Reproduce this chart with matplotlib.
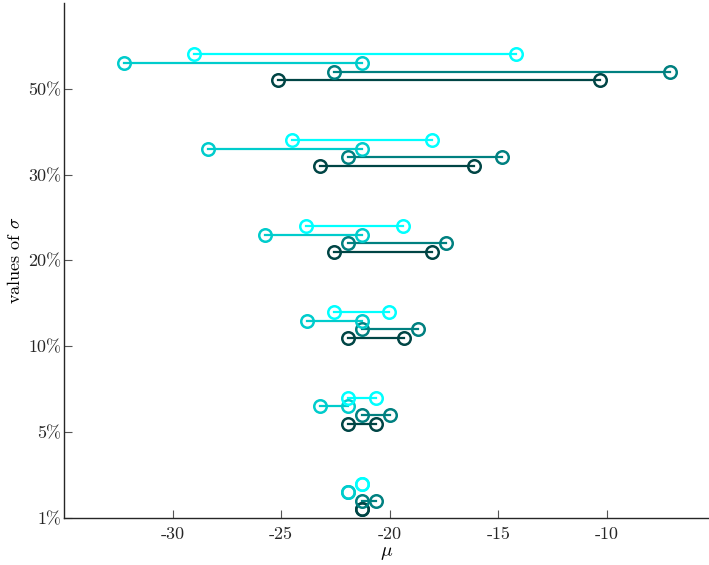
import matplotlib
matplotlib.use("Agg")
import matplotlib.pyplot as plt
import numpy as np

plt.rcParams["font.family"] = "serif"
plt.rcParams["font.serif"] = ["cmr10"]
plt.rcParams["mathtext.fontset"] = "cm"
plt.rcParams["axes.unicode_minus"] = False

# ---------------------------------------------------------------------------
# Data: interval endpoints (mu) per sigma level, four series
# ---------------------------------------------------------------------------
sigma_labels = ["1%", "5%", "10%", "20%", "30%", "50%"]

# series order: dark, teal, mid cyan, bright cyan
dark_lo = [-21.27, -21.93, -21.93, -22.56, -23.21, -25.15]
dark_hi = [-21.27, -20.64, -19.36, -18.05, -16.12, -10.34]

teal_lo = [-21.27, -21.27, -21.30, -21.92, -21.93, -22.58]
teal_hi = [-20.64, -20.00, -18.70, -17.39, -14.83, -7.10]

mid_lo = [-21.93, -23.20, -23.80, -25.75, -28.38, -32.24]
mid_hi = [-21.93, -21.93, -21.30, -21.26, -21.27, -21.27]

cyan_lo = [-21.27, -21.93, -22.58, -23.85, -24.51, -29.02]
cyan_hi = [-21.27, -20.64, -20.03, -19.39, -18.05, -14.20]

series = [
    (dark_lo, dark_hi, "#004545", 0.1),
    (teal_lo, teal_hi, "#008080", 0.2),
    (mid_lo,  mid_hi,  "#00CCCC", 0.3),
    (cyan_lo, cyan_hi, "#00FFFF", 0.4),
]

# ---------------------------------------------------------------------------
# Plot
# ---------------------------------------------------------------------------
fig = plt.figure(figsize=(7.09, 5.65), dpi=100)
ax = fig.add_axes([0.0903, 0.0832, 0.9097, 0.9115])

base = np.arange(len(sigma_labels))
for lo, hi, col, off in series:
    for i in range(len(base)):
        ax.plot([lo[i], hi[i]], [base[i] + off] * 2, color=col, lw=1.6,
                marker="o", ms=9, mfc="none", mec=col, mew=1.8)

ax.set_xlim(-35, -5.3)
ax.set_ylim(0, 6)
ax.set_xticks([-30, -25, -20, -15, -10])
ax.set_xticklabels(["-30", "-25", "-20", "-15", "-10"])
ax.set_yticks(base)
ax.set_yticklabels(sigma_labels)

for side in ["top", "right"]:
    ax.spines[side].set_visible(False)
for side in ["left", "bottom"]:
    ax.spines[side].set_color("#262626")
    ax.spines[side].set_linewidth(1.0)

ax.tick_params(direction="in", length=6, width=0.8, color="#555555",
               labelsize=13, labelcolor="#262626")
ax.tick_params(axis="x", pad=6)
ax.tick_params(axis="y", pad=2)

ax.set_xlabel(r"$\mu$", fontsize=14, labelpad=2)
ax.set_ylabel(r"values of $\sigma$", fontsize=13, labelpad=4)

plt.savefig("out.png", dpi=100)
plt.close()
